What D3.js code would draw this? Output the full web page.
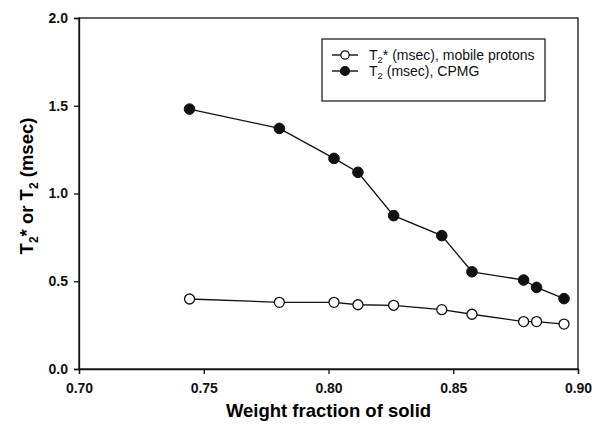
<!DOCTYPE html>
<html>
<head>
<meta charset="utf-8">
<script src="https://cdn.jsdelivr.net/npm/d3@7"></script>
<style>
  body { margin: 0; background: #fff; }
  svg { font-family: "Liberation Sans", Arial, sans-serif; }
</style>
</head>
<body>
<svg id="chart" width="592" height="428"></svg>
<script>
// weight fraction of solid
const solidFrac = [0.7443, 0.7803, 0.8022, 0.8118, 0.8261, 0.8454, 0.8575, 0.8782, 0.8834, 0.8944];
// T2* mobile protons (open circles)
const t2star = [0.399, 0.380, 0.380, 0.366, 0.363, 0.338, 0.312, 0.270, 0.270, 0.256];
// T2 CPMG (filled circles)
const t2cpmg = [1.481, 1.371, 1.200, 1.121, 0.874, 0.760, 0.554, 0.507, 0.465, 0.401];
const t2cpmgErr = [0, 0, 0, 0, 0.025, 0, 0, 0, 0, 0];
const xTicks = [0.70, 0.75, 0.80, 0.85, 0.90];
const yTicks = [0.0, 0.5, 1.0, 1.5, 2.0];
const legendLabels = ["T₂* (msec), mobile protons", "T₂ (msec), CPMG"];

const margin = {left: 79, right: 14, top: 18, bottom: 59};
const W = 592, H = 428;
const svg = d3.select("#chart");

const x = d3.scaleLinear().domain([0.70, 0.90]).range([margin.left, W - margin.right]);
const y = d3.scaleLinear().domain([0, 2.0]).range([H - margin.bottom, margin.top]);

// frame
svg.append("rect")
  .attr("x", x(0.70)).attr("y", y(2.0))
  .attr("width", x(0.90) - x(0.70)).attr("height", y(0) - y(2.0))
  .attr("fill", "none").attr("stroke", "#111").attr("stroke-width", 1.3);

const xAxis = svg.append("g")
  .attr("transform", `translate(0,${y(0)})`)
  .call(d3.axisBottom(x).tickValues(xTicks).tickFormat(d3.format(".2f")).tickSize(5).tickPadding(9));
const yAxis = svg.append("g")
  .attr("transform", `translate(${x(0.70)},0)`)
  .call(d3.axisLeft(y).tickValues(yTicks).tickFormat(d3.format(".1f")).tickSize(5).tickPadding(6));

[xAxis, yAxis].forEach(g => {
  g.select(".domain").attr("stroke", "#111").attr("stroke-width", 1.3);
  g.selectAll(".tick line").attr("stroke", "#111").attr("stroke-width", 1.3);
  g.selectAll(".tick text")
    .attr("fill", "#111")
    .style("font-size", "14px")
    .style("font-weight", "bold")
    .style("font-family", "'Liberation Sans', Arial, sans-serif");
});

// axis titles
svg.append("text")
  .attr("x", x(0.80)).attr("y", 417)
  .attr("text-anchor", "middle")
  .style("font-size", "18.5px").style("font-weight", "bold")
  .text("Weight fraction of solid");

const yl = svg.append("text")
  .attr("transform", "translate(33,186) rotate(-90)")
  .attr("text-anchor", "middle")
  .style("font-size", "18.5px").style("font-weight", "bold");
yl.append("tspan").text("T");
yl.append("tspan").attr("dy", 5).style("font-size", "12px").text("2");
yl.append("tspan").attr("dy", -5).text("* or T");
yl.append("tspan").attr("dy", 5).style("font-size", "12px").text("2");
yl.append("tspan").attr("dy", -5).text(" (msec)");

const line = d3.line().x(d => x(d[0])).y(d => y(d[1]));
const openPts = solidFrac.map((v, i) => [v, t2star[i]]);
const fillPts = solidFrac.map((v, i) => [v, t2cpmg[i], t2cpmgErr[i]]);

svg.append("path").datum(openPts).attr("d", line)
  .attr("fill", "none").attr("stroke", "#111").attr("stroke-width", 1.3);
svg.append("path").datum(fillPts).attr("d", line)
  .attr("fill", "none").attr("stroke", "#111").attr("stroke-width", 1.3);

// error bars
svg.selectAll("line.err").data(fillPts.filter(d => d[2] > 0)).enter()
  .append("line").attr("class", "err")
  .attr("x1", d => x(d[0])).attr("x2", d => x(d[0]))
  .attr("y1", d => y(d[1] - d[2])).attr("y2", d => y(d[1] + d[2]))
  .attr("stroke", "#111").attr("stroke-width", 1.3);
svg.selectAll("g.errcap").data(fillPts.filter(d => d[2] > 0)).enter()
  .append("g").attr("class", "errcap")
  .each(function(d) {
    [d[1] - d[2], d[1] + d[2]].forEach(v => {
      d3.select(this).append("line")
        .attr("x1", x(d[0]) - 3).attr("x2", x(d[0]) + 3)
        .attr("y1", y(v)).attr("y2", y(v))
        .attr("stroke", "#111").attr("stroke-width", 1.3);
    });
  });

svg.selectAll("circle.open").data(openPts).enter()
  .append("circle").attr("class", "open")
  .attr("cx", d => x(d[0])).attr("cy", d => y(d[1])).attr("r", 5)
  .attr("fill", "#fff").attr("stroke", "#111").attr("stroke-width", 1.3);
svg.selectAll("circle.fill").data(fillPts).enter()
  .append("circle").attr("class", "fill")
  .attr("cx", d => x(d[0])).attr("cy", d => y(d[1])).attr("r", 5.3)
  .attr("fill", "#111").attr("stroke", "#111").attr("stroke-width", 1);

// legend
const lg = svg.append("g").attr("transform", "translate(322,39)");
lg.append("rect").attr("width", 223).attr("height", 62)
  .attr("fill", "#fff").attr("stroke", "#111").attr("stroke-width", 1.2);
legendLabels.forEach((lab, i) => {
  const ry = 16 + i * 16;
  lg.append("line").attr("x1", 10).attr("x2", 36).attr("y1", ry).attr("y2", ry)
    .attr("stroke", "#111").attr("stroke-width", 1.4);
  lg.append("circle").attr("cx", 23).attr("cy", ry).attr("r", i === 0 ? 4.2 : 4.5)
    .attr("fill", i === 0 ? "#fff" : "#111").attr("stroke", "#111").attr("stroke-width", 1.2);
  const t = lg.append("text").attr("x", 47).attr("y", ry + 5)
    .style("font-size", "14px").attr("fill", "#111");
  const parts = lab.split("₂");
  t.append("tspan").text(parts[0]);
  t.append("tspan").attr("dy", 3).style("font-size", "9.5px").text("2");
  t.append("tspan").attr("dy", -3).text(parts[1]);
});
</script>
</body>
</html>
